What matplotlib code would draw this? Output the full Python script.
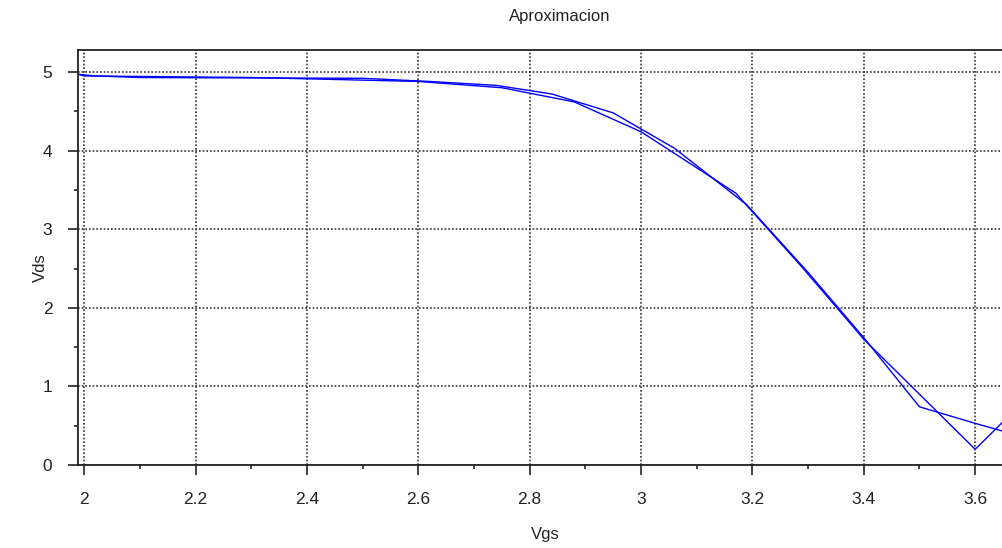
import numpy as np
import matplotlib.pyplot as plt
from matplotlib.ticker import MultipleLocator

plt.rcParams['font.family'] = 'Liberation Sans'

# measured transfer curve Vds(Vgs)
vgs_meas = [1.99, 2.02, 2.10, 2.50, 2.62, 2.74, 2.84, 2.95, 3.06, 3.19, 3.30, 3.40, 3.50, 3.60, 3.70]
vds_meas = [4.97, 4.95, 4.93, 4.92, 4.88, 4.83, 4.72, 4.48, 4.03, 3.31, 2.45, 1.62, 0.74, 0.53, 0.33]

# approximation of the same curve
vgs_aprox = [1.99, 2.00, 2.30, 2.60, 2.75, 2.88, 3.00, 3.17, 3.29, 3.40, 3.60, 3.70]
vds_aprox = [4.97, 4.95, 4.93, 4.88, 4.80, 4.62, 4.24, 3.46, 2.51, 1.60, 0.20, 0.90]

fig = plt.figure(figsize=(10.02, 5.48), dpi=100)
ax = fig.add_axes([78 / 1002, 83 / 548, 964 / 1002, 415 / 548])

ax.plot(vgs_meas, vds_meas, color='#0000ff', lw=1.0)
ax.plot(vgs_aprox, vds_aprox, color='#0000ff', lw=1.0)

ax.set_xlim(1.989, 3.72)
ax.set_ylim(0, 5.28)

ax.xaxis.set_major_locator(MultipleLocator(0.2))
ax.xaxis.set_minor_locator(MultipleLocator(0.1))
ax.yaxis.set_major_locator(MultipleLocator(1))
ax.yaxis.set_minor_locator(MultipleLocator(0.5))
ax.set_xticks([2, 2.2, 2.4, 2.6, 2.8, 3, 3.2, 3.4, 3.6])
ax.set_xticklabels(['2', '2.2', '2.4', '2.6', '2.8', '3', '3.2', '3.4', '3.6'])

ax.tick_params(which='major', direction='out', length=7.5, width=1.2,
               labelsize=12.5, colors='#222222')
ax.tick_params(axis='x', which='major', pad=12)
ax.tick_params(axis='y', which='major', pad=11)
ax.tick_params(which='minor', direction='out', length=3, width=1.2, colors='#222222')
for s in ax.spines.values():
    s.set_linewidth(1.3)
    s.set_color('#222222')

ax.grid(True, which='major', color='#333333', linestyle=(0, (1, 1.2)), linewidth=1.2)
ax.set_axisbelow(True)

fig.text(560 / 1002, 1 - 17 / 548, 'Aproximacion', ha='center', va='center',
         fontsize=12, color='#222222')
fig.text(545 / 1002, 1 - 535 / 548, 'Vgs', ha='center', va='center',
         fontsize=12, color='#222222')
fig.text(40 / 1002, 1 - 268 / 548, 'Vds', ha='center', va='center',
         rotation=90, fontsize=12, color='#222222')

fig.savefig('out.png', dpi=100)
